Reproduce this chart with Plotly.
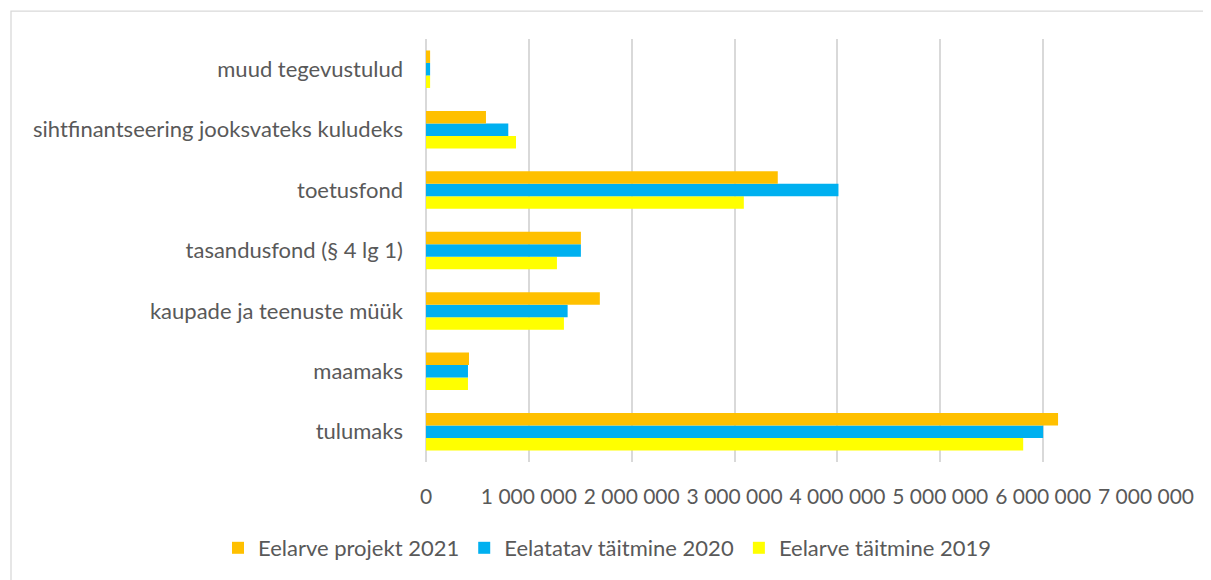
import plotly.graph_objects as go

categories = ["tulumaks", "maamaks", "kaupade ja teenuste müük", "tasandusfond (§ 4 lg 1)",
              "toetusfond", "sihtfinantseering jooksvateks kuludeks", "muud tegevustulud"]
v2021 = [6145000, 418000, 1690000, 1506000, 3420000, 583000, 40000]
v2020 = [6000000, 408000, 1377000, 1506000, 4010000, 800000, 40000]
v2019 = [5806000, 408000, 1341000, 1273000, 3090000, 875000, 40000]
names = ["Eelarve täitmine 2019", "Eelatatav täitmine 2020", "Eelarve projekt 2021"]
colors = ["#FFFF00", "#00B0F0", "#FFC000"]
xticks = [0, 1000000, 2000000, 3000000, 4000000, 5000000, 6000000, 7000000]

FONT = "Lato"
FS = 22
GRAY = "#595959"

fig = go.Figure()
for name, vals, col in zip(names, [v2019, v2020, v2021], colors):
    fig.add_trace(go.Bar(y=categories, x=vals, name=name, orientation="h",
                         marker=dict(color=col, line=dict(width=0))))

# page has an 8px body margin; figure is sized to fill the rest of the window
W, H = 1203, 572
L, R, T, B = 418, 65, 31, 117
pw, ph = W - L - R, H - T - B

fig.update_layout(
    width=W, height=H,
    margin=dict(l=L, r=R, t=T, b=B),
    barmode="group", bargap=0.38, bargroupgap=0,
    plot_bgcolor="white", paper_bgcolor="white",
    separators=", ",
    font=dict(family=FONT, size=FS, color=GRAY),
    xaxis=dict(range=[0, 7000000], tickvals=xticks, tickformat=",d",
               showgrid=True, gridcolor="#D9D9D9", gridwidth=1.6,
               zeroline=True, zerolinecolor="#D9D9D9", zerolinewidth=1.6,
               showline=False, ticks="", ticklabelstandoff=20,
               tickfont=dict(family=FONT, size=21, color=GRAY)),
    yaxis=dict(categoryorder="array", categoryarray=categories,
               showgrid=False, zeroline=False, showline=False, ticks="",
               ticklabelstandoff=22,
               tickfont=dict(family=FONT, size=FS, color=GRAY)),
    legend=dict(orientation="h", traceorder="reversed",
                xref="paper", x=(210 - L) / pw, xanchor="left",
                yref="paper", y=(H - B - 540) / ph, yanchor="middle",
                font=dict(family=FONT, size=FS, color=GRAY), itemwidth=30),
    shapes=[dict(type="rect", xref="paper", yref="paper",
                 x0=(3 - L) / pw, x1=(W + 10 - L) / pw,
                 y0=(H - B - (H + 10)) / ph, y1=(H - B - 3) / ph,
                 line=dict(color="#D9D9D9", width=1.3), fillcolor="rgba(0,0,0,0)",
                 layer="below")],
)

fig.write_html("out.html")
